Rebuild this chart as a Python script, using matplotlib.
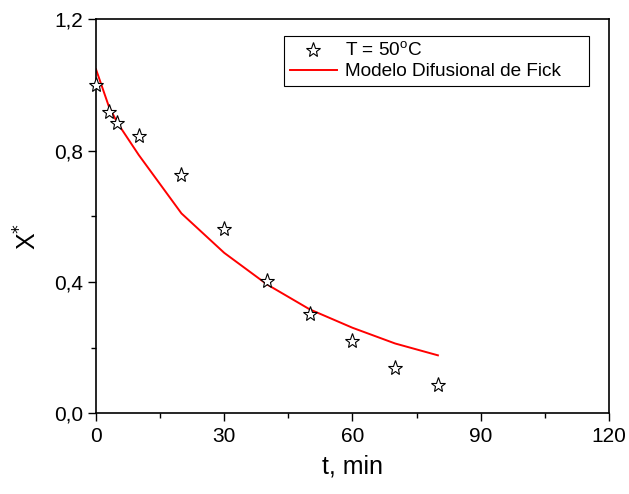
import matplotlib
matplotlib.use("Agg")
import matplotlib.pyplot as plt
from matplotlib.ticker import MultipleLocator, FuncFormatter

plt.rcParams['font.family'] = ['Liberation Sans', 'DejaVu Sans']

# experimental points, T = 50 C
t_exp = [0, 3, 5, 10, 20, 30, 40, 50, 60, 70, 80]
x_exp = [1.000, 0.919, 0.883, 0.845, 0.726, 0.562, 0.403, 0.302, 0.220, 0.137, 0.088]

# Fick diffusion model
t_mod = [0, 3, 5, 10, 20, 30, 40, 50, 60, 70, 80]
x_mod = [1.048, 0.935, 0.885, 0.787, 0.609, 0.489, 0.393, 0.317, 0.261, 0.213, 0.177]

fig = plt.figure(figsize=(6.29, 4.94), dpi=100)
ax = fig.add_axes([0.1526, 0.163, 0.8154, 0.798])

ax.plot(t_exp, x_exp, linestyle='none', marker='*', markersize=11,
        markerfacecolor='white', markeredgecolor='black', markeredgewidth=0.8,
        label='T = 50$^{\\mathregular{o}}$C', clip_on=False, zorder=3)
ax.plot(t_mod, x_mod, color='red', lw=1.4, label='Modelo Difusional de Fick')

ax.set_xlim(0, 120)
ax.set_ylim(0, 1.2)
ax.xaxis.set_major_locator(MultipleLocator(30))
ax.xaxis.set_minor_locator(MultipleLocator(15))
ax.yaxis.set_major_locator(MultipleLocator(0.4))
ax.yaxis.set_minor_locator(MultipleLocator(0.2))
ax.yaxis.set_major_formatter(FuncFormatter(lambda v, p: f"{v:.1f}".replace('.', ',')))

ax.tick_params(which='both', direction='out', top=False, right=False, labelsize=15, width=1)
ax.tick_params(which='major', length=6, pad=3.5)
ax.tick_params(which='minor', length=3.5)
for s in ax.spines.values():
    s.set_linewidth(1.2)

ax.set_xlabel('t, min', fontsize=18, labelpad=6)
ax.set_ylabel('X$^{*}$', fontsize=18)
ax.yaxis.set_label_coords(-0.106, 0.448)

leg = ax.legend(loc='upper left', bbox_to_anchor=(0.3665, 0.802, 0.5945, 0.156),
                mode='expand', borderaxespad=0,
                fancybox=False, edgecolor='black', fontsize=13.7, handlelength=2.5,
                handletextpad=0.4, borderpad=0.3, labelspacing=0.15,
                framealpha=1)
leg.get_frame().set_linewidth(0.8)

fig.savefig('out.png', dpi=100)
